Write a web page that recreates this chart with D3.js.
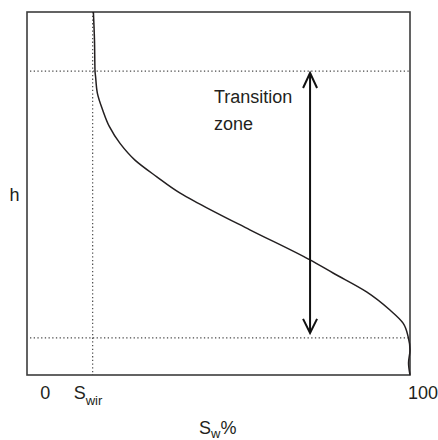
<!DOCTYPE html>
<html>
<head>
<meta charset="utf-8">
<script src="https://cdn.jsdelivr.net/npm/d3@7"></script>
<style>
  body { margin: 0; background: #fff; }
  text { font-family: "Liberation Sans", Arial, sans-serif; fill: #231f20; }
</style>
</head>
<body>
<script>
// capillary pressure curve: water saturation (%) against height h
const swValues = [13.2, 13.5, 13.65, 13.8, 14.3, 15.75, 17.6, 20.5, 24.6, 30.6, 37.0, 42.0, 56.1, 72.6, 78.9, 88.1, 94.5, 98.1, 99.5, 100, 99.6, 100];
const hValues  = [100, 92.3, 83.7, 82.2, 77.6, 73.0, 68.4, 63.8, 59.2, 54.6, 50.1, 47.3, 40.0, 31.7, 28.1, 22.9, 17.9, 14.3, 10.5, 6.9, 3.3, 0];

const swir = 13;          // irreducible water saturation
const hTop = 83.7;        // top of transition zone
const hFwl = 10.2;        // bottom of transition zone
const arrowTop = 83.2;
const arrowBottom = 11.6;
const arrowSw = 72.6;

const width = 438;
const height = 440;
const margin = { top: 12, right: 28, bottom: 65, left: 27 };

const svg = d3.select("body").append("svg")
  .attr("width", width)
  .attr("height", height);

const x = d3.scaleLinear()
  .domain([-5, 100])
  .range([margin.left, width - margin.right]);

const y = d3.scaleLinear()
  .domain([0, 100])
  .range([height - margin.bottom, margin.top]);

const data = swValues.map((d, i) => ({ sw: d, h: hValues[i] }));

// dotted guide lines
const dotted = svg.append("g")
  .attr("stroke", "#4a4a4a")
  .attr("stroke-width", 1.2)
  .attr("stroke-dasharray", "1.3,2.4");

[hTop, hFwl].forEach((h) => {
  dotted.append("line")
    .attr("x1", x(-5) + 3)
    .attr("x2", x(100))
    .attr("y1", y(h))
    .attr("y2", y(h));
});

dotted.append("line")
  .attr("x1", x(swir))
  .attr("x2", x(swir))
  .attr("y1", y(100))
  .attr("y2", y(0));

// frame
svg.append("rect")
  .attr("x", x(-5))
  .attr("y", y(100))
  .attr("width", x(100) - x(-5))
  .attr("height", y(0) - y(100))
  .attr("fill", "none")
  .attr("stroke", "#3d3d3d")
  .attr("stroke-width", 1.6);

// curve
const line = d3.line()
  .x((d) => x(d.sw))
  .y((d) => y(d.h))
  .curve(d3.curveMonotoneY);

svg.append("path")
  .datum(data)
  .attr("fill", "none")
  .attr("stroke", "#231f20")
  .attr("stroke-width", 1.5)
  .attr("d", line);

// double arrow for the transition zone
const ax = x(arrowSw);
const arrow = svg.append("g")
  .attr("stroke", "#111")
  .attr("stroke-width", 2)
  .attr("fill", "none");

arrow.append("line")
  .attr("x1", ax)
  .attr("x2", ax)
  .attr("y1", y(arrowTop))
  .attr("y2", y(arrowBottom));

arrow.append("path")
  .attr("d", `M${ax - 7},${y(arrowTop) + 15}L${ax},${y(arrowTop)}L${ax + 7},${y(arrowTop) + 15}`);

arrow.append("path")
  .attr("d", `M${ax - 7},${y(arrowBottom) - 14}L${ax},${y(arrowBottom)}L${ax + 7},${y(arrowBottom) - 14}`);

// labels
svg.append("text")
  .attr("x", 214)
  .attr("y", 103)
  .style("font-size", "18px")
  .text("Transition");

svg.append("text")
  .attr("x", 214)
  .attr("y", 130)
  .style("font-size", "18px")
  .text("zone");

svg.append("text")
  .attr("x", 9.5)
  .attr("y", 200.5)
  .style("font-size", "18px")
  .text("h");

const tickY = y(0) + 24;

svg.append("text")
  .attr("x", x(0))
  .attr("y", tickY)
  .attr("text-anchor", "middle")
  .style("font-size", "18px")
  .text("0");

const swirLabel = svg.append("text")
  .attr("x", x(swir) - 19)
  .attr("y", tickY)
  .style("font-size", "18px")
  .text("S");
swirLabel.append("tspan")
  .attr("dy", 6)
  .style("font-size", "13px")
  .text("wir");

svg.append("text")
  .attr("x", x(100) - 2)
  .attr("y", tickY)
  .style("font-size", "18px")
  .text("100");

const axisLabel = svg.append("text")
  .attr("x", 199)
  .attr("y", 434)
  .style("font-size", "18px")
  .text("S");
axisLabel.append("tspan")
  .attr("dy", 4)
  .style("font-size", "13px")
  .text("w");
axisLabel.append("tspan")
  .attr("dy", -4)
  .text("%");
</script>
</body>
</html>
